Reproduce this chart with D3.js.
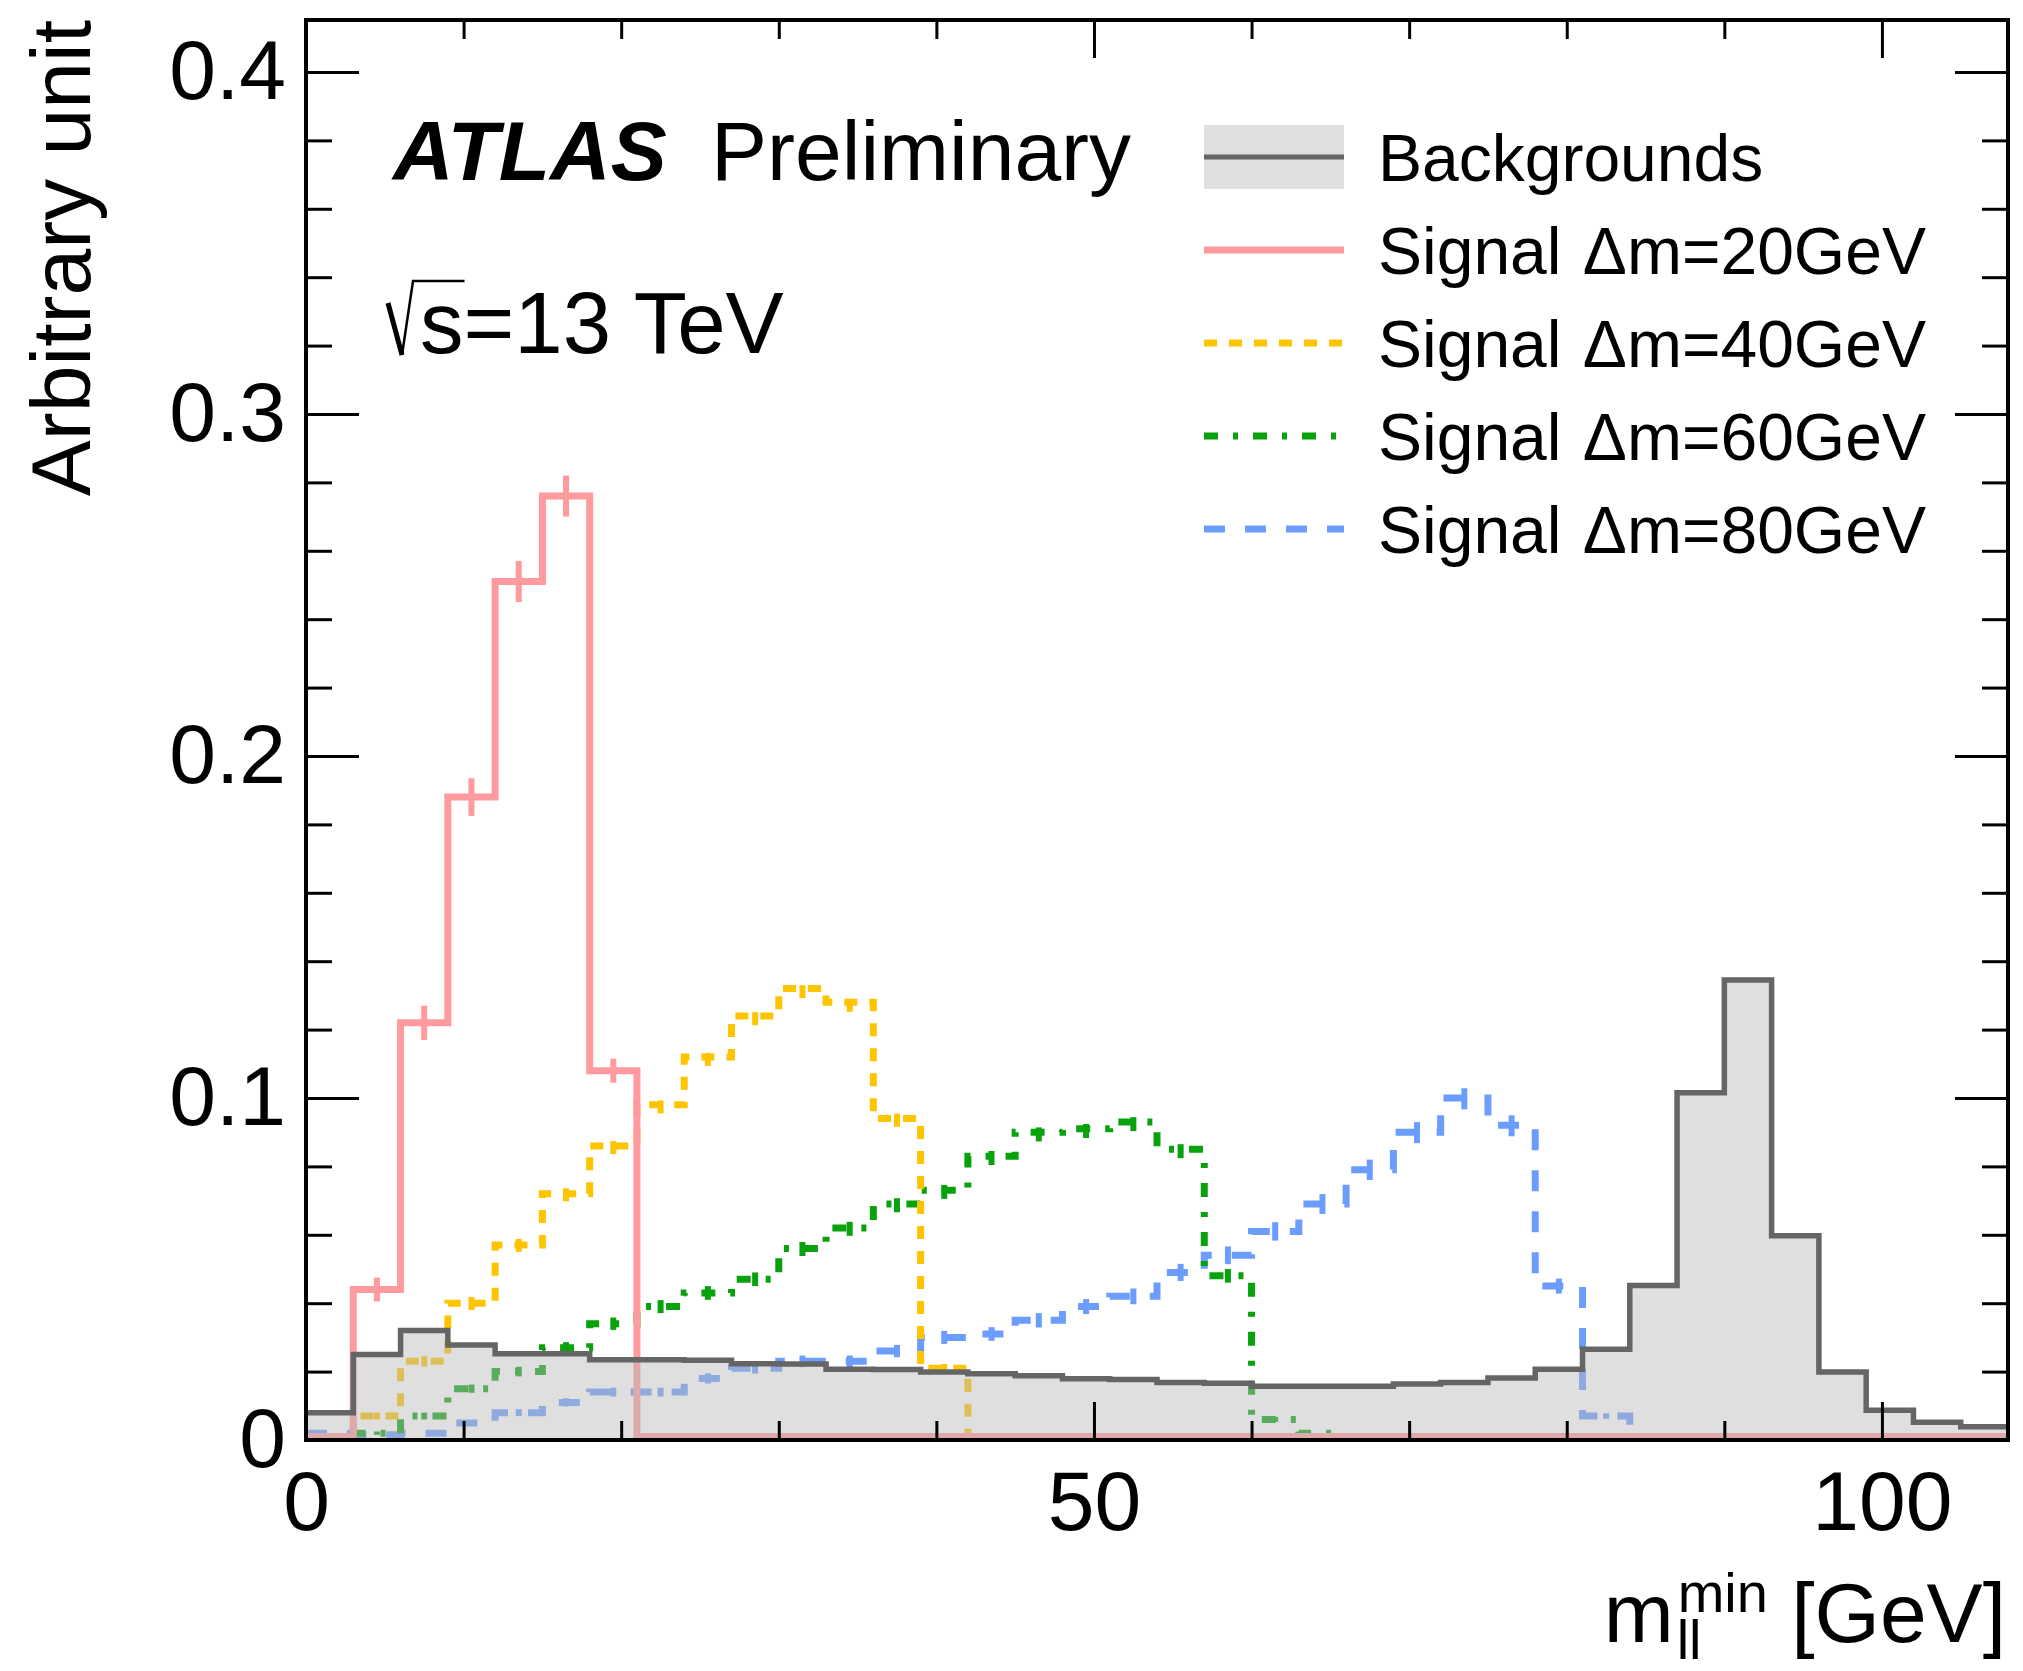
<!DOCTYPE html>
<html>
<head>
<meta charset="utf-8">
<script src="https://cdn.jsdelivr.net/npm/d3@7"></script>
<style>
  body { margin: 0; background: #fff; }
  text { font-family: "Liberation Sans", Arial, Helvetica, sans-serif; fill: #000; }
</style>
</head>
<body>
<svg id="chart" width="2023" height="1671"></svg>
<script>
// m_ll^min bins, 3 GeV wide
const binEdges = [0,3,6,9,12,15,18,21,24,27,30,33,36,39,42,45,48,51,54,57,60,63,66,69,72,75,78,81,84,87,90,93,96,99,102,105,108]

const bkg = [0.008,0.025,0.032,0.0278,0.0252,0.0252,0.0235,0.0235,0.0233,0.0223,
             0.0222,0.0207,0.0206,0.0199,0.0194,0.0188,0.0179,0.0177,0.0168,0.0166,
             0.0157,0.0157,0.0157,0.0164,0.0168,0.0181,0.0207,0.0265,0.0452,0.1015,
             0.1345,0.0597,0.0199,0.0087,0.0052,0.0039]

const sig20 = [0.001,0.044,0.122,0.188,0.251,0.276,0.108,0.001,0.001,0.001,
               0.001,0.001,0.001,0.001,0.001,0.001,0.001,0.001,0.001,0.001,
               0.001,0.001,0.001,0.001,0.001,0.001,0.001,0.001,0.001,0.001,
               0.001,0.001,0.001,0.001,0.001,0.001]
const err20 = [0,0.0035,0.005,0.0055,0.006,0.006,0.0035,0,0,0,0,0,0,0,0,0,0,0,
               0,0,0,0,0,0,0,0,0,0,0,0,0,0,0,0,0,0]

const sig40 = [0.001,0.007,0.023,0.040,0.057,0.072,0.086,0.098,0.112,0.124,
               0.132,0.128,0.094,0.021,0.001,0.001,0.001,0.001,0.001,0.001,
               0.001,0.001,0.001,0.001,0.001,0.001,0.001,0.001,0.001,0.001,
               0.001,0.001,0.001,0.001,0.001,0.001]
const err40 = [0,0.001,0.0015,0.002,0.002,0.0022,0.0024,0.0025,0.0026,0.0027,
               0.0028,0.0028,0.0024,0.0012,0,0,0,0,0,0,0,0,0,0,0,0,0,0,0,0,0,0,0,0,0,0]

const sig60 = [0.001,0.002,0.007,0.015,0.020,0.027,0.034,0.039,0.043,0.047,
               0.056,0.062,0.069,0.073,0.083,0.090,0.091,0.093,0.085,0.048,
               0.006,0.002,0.001,0.001,0.001,0.001,0.001,0.001,0.001,0.001,
               0.001,0.001,0.001,0.001,0.001,0.001]
const err60 = [0,0.0005,0.001,0.0012,0.0014,0.0016,0.0018,0.0019,0.002,0.002,
               0.0022,0.0023,0.0024,0.0025,0.0026,0.0027,0.0027,0.0027,0.0026,0.002,
               0.0007,0,0,0,0,0,0,0,0,0,0,0,0,0,0,0]

const sig80 = [0.002,0.0015,0.002,0.005,0.008,0.011,0.014,0.014,0.018,0.021,
               0.023,0.023,0.026,0.030,0.031,0.035,0.039,0.042,0.049,0.054,
               0.061,0.069,0.079,0.090,0.100,0.092,0.045,0.007,0.001,0.001,
               0.001,0.001,0.001,0.001,0.001,0.001]
const err80 = [0,0,0,0.0008,0.001,0.0012,0.0013,0.0013,0.0015,0.0016,
               0.0017,0.0017,0.0018,0.0019,0.002,0.0021,0.0022,0.0023,0.0025,0.0026,
               0.0027,0.0029,0.003,0.0032,0.0033,0.0032,0.0022,0.0008,0,0,0,0,0,0,0,0]

const yMajor = [0, 0.1, 0.2, 0.3, 0.4]
const yMinor = [0.02,0.04,0.06,0.08,0.12,0.14,0.16,0.18,0.22,0.24,0.26,0.28,0.32,0.34,0.36,0.38]
const xMajor = [0, 50, 100]
const xMinor = [10,20,30,40,60,70,80,90]

const legendLabels = ['Backgrounds','Δm=20GeV','Δm=40GeV','Δm=60GeV','Δm=80GeV']

// layout
const plot = {left: 306, right: 2008, top: 20, bottom: 1440}
const fontBig = 84
const fontLeg = 66
const sigWidth = 7

const svg = d3.select('#chart')

const x = d3.scaleLinear().domain([0, 108]).range([plot.left, plot.right])
const y = d3.scaleLinear().domain([0, 0.4152]).range([plot.bottom, plot.top])

svg.append('defs').append('clipPath').attr('id', 'clip')
    .append('rect')
    .attr('x', plot.left).attr('y', plot.top)
    .attr('width', plot.right - plot.left).attr('height', plot.bottom - plot.top)

const stepPoints = vals => vals.map((v,i)=>[binEdges[i], v]).concat([[binEdges[vals.length], vals[vals.length-1]]])

const stepLine = d3.line()
    .x(d=>x(d[0])).y(d=>y(d[1]))
    .curve(d3.curveStepAfter)

const stepArea = d3.area()
    .x(d=>x(d[0])).y0(y(0)).y1(d=>y(d[1]))
    .curve(d3.curveStepAfter)

const signals = [
    {values: sig80, errors: err80, color: '#6b9dff', dash: '21,20'},
    {values: sig60, errors: err60, color: '#07a20c', dash: '14,15,5,15'},
    {values: sig40, errors: err40, color: '#ffc400', dash: '13,12'},
    {values: sig20, errors: err20, color: '#ff9a9e', dash: null}
]

const histG = svg.append('g').attr('clip-path', 'url(#clip)')

// Signals
signals.forEach(function(s){
    histG.append('path')
        .attr('d', stepLine(stepPoints(s.values)))
        .attr('fill', 'none')
        .attr('stroke', s.color)
        .attr('stroke-width', sigWidth)
        .attr('stroke-dasharray', s.dash)

    histG.selectAll(null)
        .data(s.values.map((v,i)=>({c: binEdges[i]+1.5, v: v, e: s.errors[i]})).filter(d=>d.e>0))
        .enter()
        .append('line')
        .attr('x1', d=>x(d.c)).attr('x2', d=>x(d.c))
        .attr('y1', d=>y(d.v - d.e)).attr('y2', d=>y(d.v + d.e))
        .attr('stroke', s.color)
        .attr('stroke-width', sigWidth - 1)
        .attr('stroke-dasharray', s.dash)
})

// Backgrounds on top, half transparent
histG.append('path')
    .attr('d', stepArea(stepPoints(bkg)))
    .attr('fill', '#b9b9b9')
    .attr('fill-opacity', 0.46)

histG.append('path')
    .attr('d', stepLine(stepPoints(bkg)))
    .attr('fill', 'none')
    .attr('stroke', '#656565')
    .attr('stroke-width', 5.5)

// Axes
function styleAxis(g, width){
    g.select('.domain').remove()
    g.selectAll('.tick line').attr('stroke', '#000').attr('stroke-width', width)
    g.selectAll('.tick text').style('font-size', fontBig + 'px').style('font-family', '"Liberation Sans", Arial, sans-serif').attr('fill', '#000')
}

svg.append('g').attr('transform', `translate(${plot.left},0)`)
    .call(d3.axisLeft(y).tickValues(yMajor).tickSize(-53).tickPadding(20).tickFormat(d=>d===0?'0':d3.format('.1f')(d)))
    .call(g=>styleAxis(g, 3))
svg.append('g').attr('transform', `translate(${plot.left},0)`)
    .call(d3.axisLeft(y).tickValues(yMinor).tickSize(-26).tickFormat(''))
    .call(g=>styleAxis(g, 3))
svg.append('g').attr('transform', `translate(${plot.right},0)`)
    .call(d3.axisRight(y).tickValues(yMajor).tickSize(-53).tickFormat(''))
    .call(g=>styleAxis(g, 3))
svg.append('g').attr('transform', `translate(${plot.right},0)`)
    .call(d3.axisRight(y).tickValues(yMinor).tickSize(-26).tickFormat(''))
    .call(g=>styleAxis(g, 3))

svg.append('g').attr('transform', `translate(0,${plot.bottom})`)
    .call(d3.axisBottom(x).tickValues(xMajor).tickSize(-38).tickPadding(30).tickFormat(d3.format('d')))
    .call(g=>styleAxis(g, 3))
svg.append('g').attr('transform', `translate(0,${plot.bottom})`)
    .call(d3.axisBottom(x).tickValues(xMinor).tickSize(-19).tickFormat(''))
    .call(g=>styleAxis(g, 3))
svg.append('g').attr('transform', `translate(0,${plot.top})`)
    .call(d3.axisTop(x).tickValues(xMajor).tickSize(-38).tickFormat(''))
    .call(g=>styleAxis(g, 3))
svg.append('g').attr('transform', `translate(0,${plot.top})`)
    .call(d3.axisTop(x).tickValues(xMinor).tickSize(-19).tickFormat(''))
    .call(g=>styleAxis(g, 3))

// Frame
svg.append('rect')
    .attr('x', plot.left).attr('y', plot.top)
    .attr('width', plot.right - plot.left).attr('height', plot.bottom - plot.top)
    .attr('fill', 'none').attr('stroke', '#000').attr('stroke-width', 4)

// Axis titles
svg.append('text')
    .attr('transform', `translate(90,${plot.top}) rotate(-90)`)
    .attr('text-anchor', 'end')
    .style('font-size', fontBig + 'px')
    .text('Arbitrary unit')

const xTitleBase = 1642
const gev = svg.append('text')
    .attr('x', plot.right - 2).attr('y', xTitleBase)
    .attr('text-anchor', 'end')
    .style('font-size', fontBig + 'px')
    .text('\u00a0[GeV]')
const gevStart = plot.right - 2 - gev.node().getComputedTextLength()
const sup = svg.append('text')
    .attr('x', gevStart).attr('y', xTitleBase - 30)
    .attr('text-anchor', 'end')
    .style('font-size', '56px')
    .text('min')
const supStart = gevStart - sup.node().getComputedTextLength()
svg.append('text')
    .attr('x', supStart - 1).attr('y', xTitleBase + 17)
    .style('font-size', '56px')
    .text('ll')
svg.append('text')
    .attr('x', supStart - 4).attr('y', xTitleBase)
    .attr('text-anchor', 'end')
    .style('font-size', fontBig + 'px')
    .text('m')

// ATLAS label
svg.append('text')
    .attr('x', 393).attr('y', 180)
    .style('font-size', fontBig + 'px')
    .style('font-weight', 'bold').style('font-style', 'italic')
    .text('ATLAS')
svg.append('text')
    .attr('x', 711).attr('y', 180)
    .style('font-size', fontBig + 'px')
    .text('Preliminary')

// sqrt(s) label
const sqX = 388, sqBase = 353
const sText = svg.append('text')
    .attr('x', sqX + 32).attr('y', sqBase)
    .style('font-size', '87px')
    .text('s=13 TeV')
const sW = sText.node().getSubStringLength(0, 1)
svg.append('path')
    .attr('d', `M${sqX},${sqBase-50} L${sqX+14},${sqBase+2}`)
    .attr('fill', 'none').attr('stroke', '#000').attr('stroke-width', 5)
svg.append('path')
    .attr('d', `M${sqX+14},${sqBase+2} L${sqX+25},${sqBase-72} L${sqX+33+sW},${sqBase-72}`)
    .attr('fill', 'none').attr('stroke', '#000').attr('stroke-width', 2.5)

// Legend
const legX0 = 1204, legX1 = 1344, legText = 1378
const legRows = [157, 250, 343, 436, 529]

const legend = svg.append('g')
legend.append('rect')
    .attr('x', legX0).attr('y', legRows[0]-32)
    .attr('width', legX1-legX0).attr('height', 64)
    .attr('fill', '#b9b9b9').attr('fill-opacity', 0.46)
legend.append('line')
    .attr('x1', legX0).attr('x2', legX1)
    .attr('y1', legRows[0]).attr('y2', legRows[0])
    .attr('stroke', '#656565').attr('stroke-width', 5)

const legSignals = signals.slice().reverse()
legSignals.forEach(function(s, i){
    legend.append('line')
        .attr('x1', legX0).attr('x2', legX1)
        .attr('y1', legRows[i+1]).attr('y2', legRows[i+1])
        .attr('stroke', s.color).attr('stroke-width', sigWidth)
        .attr('stroke-dasharray', s.dash)
})

const legTexts = legend.selectAll('.leg-label')
    .data(legendLabels)
    .enter()
    .append('text')
    .attr('class', 'leg-label')
    .attr('x', legText)
    .attr('y', (d,i)=>legRows[i] + 24)
    .style('font-size', fontLeg + 'px')

legTexts.filter((d,i)=>i===0).text(d=>d)
legTexts.filter((d,i)=>i>0).each(function(d){
    const t = d3.select(this)
    t.append('tspan').text('Signal ')
    t.append('tspan').attr('dx', 3).text(d)
})
</script>
</body>
</html>
